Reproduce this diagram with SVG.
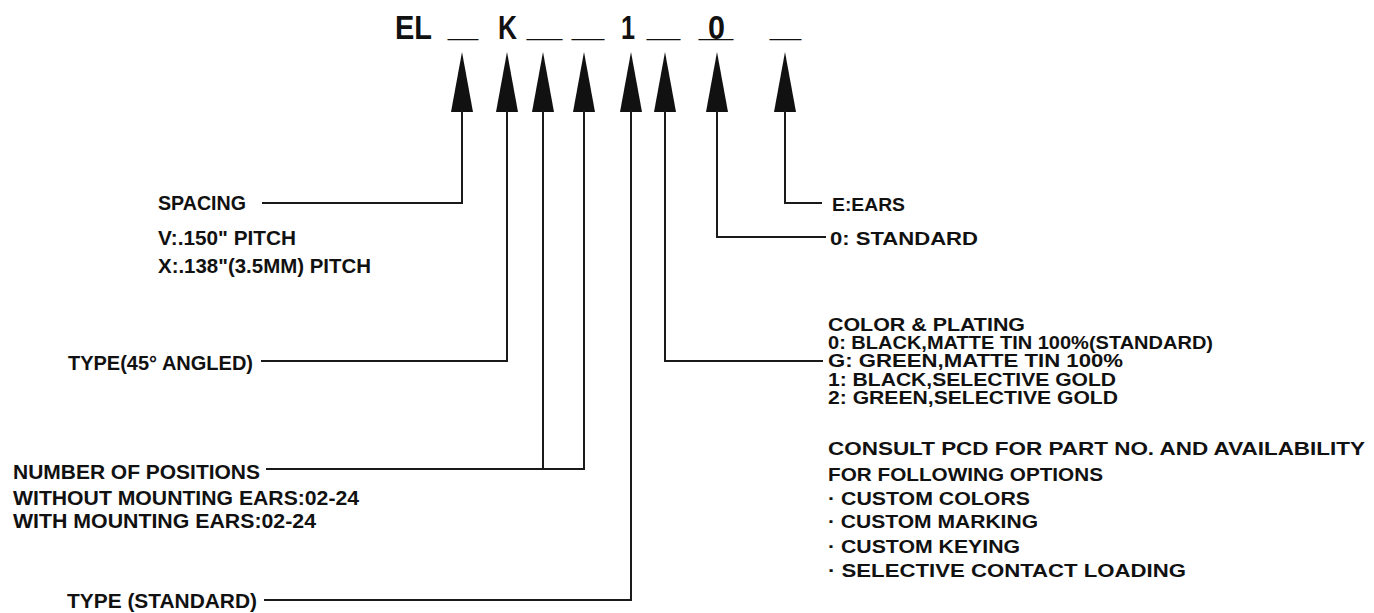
<svg xmlns="http://www.w3.org/2000/svg" xmlns:xlink="http://www.w3.org/1999/xlink" width="1374" height="613" viewBox="0 0 1374 613">
<style>
  .t { font-family: "Liberation Sans", Arial, sans-serif; font-weight: bold; fill: #111; }
  .l { font-size: 20px; }
  .r { font-size: 19px; }
  .h { font-size: 33px; }
  .c { fill: none; stroke: #1a1a1a; stroke-width: 2; }
  .ah { fill: #111; stroke: none; }
</style>
<defs>
  <path id="ah" d="M0,0 L-11,60 L11,60 Z"/>
</defs>
<rect width="1374" height="613" fill="#ffffff"/>

<g id="header">
  <text class="t h" x="395" y="39" textLength="37" lengthAdjust="spacingAndGlyphs">EL</text>
  <text class="t h" x="448" y="36" textLength="30" lengthAdjust="spacingAndGlyphs">_</text>
  <text class="t h" x="498" y="39" textLength="19" lengthAdjust="spacingAndGlyphs">K</text>
  <text class="t h" x="527" y="36" textLength="35" lengthAdjust="spacingAndGlyphs">_</text>
  <text class="t h" x="572" y="36" textLength="32" lengthAdjust="spacingAndGlyphs">_</text>
  <text class="t h" x="621" y="39" textLength="14" lengthAdjust="spacingAndGlyphs">1</text>
  <text class="t h" x="647" y="36" textLength="33" lengthAdjust="spacingAndGlyphs">_</text>
  <text class="t h" x="708" y="39" textLength="17" lengthAdjust="spacingAndGlyphs">0</text>
  <text class="t h" x="699" y="36" textLength="34" lengthAdjust="spacingAndGlyphs">_</text>
  <text class="t h" x="770" y="36" textLength="31" lengthAdjust="spacingAndGlyphs">_</text>
</g>

<g id="arrowheads">
  <use href="#ah" class="ah" x="462" y="52"/>
  <use href="#ah" class="ah" x="507" y="52"/>
  <use href="#ah" class="ah" x="543" y="52"/>
  <use href="#ah" class="ah" x="584" y="52"/>
  <use href="#ah" class="ah" x="631" y="52"/>
  <use href="#ah" class="ah" x="665" y="52"/>
  <use href="#ah" class="ah" x="717" y="52"/>
  <use href="#ah" class="ah" x="785" y="52"/>
</g>

<g id="connectors">
  <polyline class="c" points="262,203 462,203 462,110"/>
  <polyline class="c" points="261,361 507,361 507,110"/>
  <polyline class="c" points="266,469 584,469 584,110"/>
  <line class="c" x1="543" y1="110" x2="543" y2="469"/>
  <polyline class="c" points="264,600 631,600 631,110"/>
  <polyline class="c" points="823,361 665,361 665,110"/>
  <polyline class="c" points="826,237 717,237 717,110"/>
  <polyline class="c" points="822,203 785,203 785,110"/>
</g>

<g id="spacing">
  <text class="t l" x="158" y="210" textLength="88" lengthAdjust="spacingAndGlyphs">SPACING</text>
  <text class="t l" x="158" y="245" textLength="138" lengthAdjust="spacingAndGlyphs">V:.150"  PITCH</text>
  <text class="t l" x="158" y="272.5" textLength="213" lengthAdjust="spacingAndGlyphs">X:.138"(3.5MM)  PITCH</text>
</g>

<g id="type-angled">
  <text class="t l" x="253" y="370" text-anchor="end">TYPE(45° ANGLED)</text>
</g>

<g id="positions">
  <text class="t l" x="13" y="479" textLength="247" lengthAdjust="spacingAndGlyphs">NUMBER  OF  POSITIONS</text>
  <text class="t l" x="13" y="505" textLength="346" lengthAdjust="spacingAndGlyphs">WITHOUT  MOUNTING  EARS:02-24</text>
  <text class="t l" x="13" y="528" textLength="303" lengthAdjust="spacingAndGlyphs">WITH  MOUNTING  EARS:02-24</text>
</g>

<g id="type-standard">
  <text class="t l" x="67" y="608" textLength="190" lengthAdjust="spacingAndGlyphs">TYPE  (STANDARD)</text>
</g>

<g id="ears">
  <text class="t r" x="832" y="210.5" textLength="73" lengthAdjust="spacingAndGlyphs">E:EARS</text>
</g>

<g id="standard">
  <text class="t r" x="830" y="245" textLength="148" lengthAdjust="spacingAndGlyphs">0:  STANDARD</text>
</g>

<g id="color-plating">
  <text class="t r" x="828" y="331" textLength="197" lengthAdjust="spacingAndGlyphs">COLOR  &amp;  PLATING</text>
  <text class="t r" x="828" y="349" textLength="385" lengthAdjust="spacingAndGlyphs">0:  BLACK,MATTE  TIN  100%(STANDARD)</text>
  <text class="t r" x="828" y="367.3" textLength="295" lengthAdjust="spacingAndGlyphs">G:  GREEN,MATTE  TIN  100%</text>
  <text class="t r" x="828" y="385.7" textLength="288" lengthAdjust="spacingAndGlyphs">1:  BLACK,SELECTIVE  GOLD</text>
  <text class="t r" x="828" y="404" textLength="290" lengthAdjust="spacingAndGlyphs">2:  GREEN,SELECTIVE  GOLD</text>
  <text class="t r" x="828" y="455" textLength="537" lengthAdjust="spacingAndGlyphs">CONSULT  PCD  FOR  PART  NO.  AND  AVAILABILITY</text>
  <text class="t r" x="828" y="480.7" textLength="275" lengthAdjust="spacingAndGlyphs">FOR  FOLLOWING  OPTIONS</text>
  <text class="t r" x="828" y="505" textLength="202" lengthAdjust="spacingAndGlyphs">·  CUSTOM  COLORS</text>
  <text class="t r" x="828" y="528.3" textLength="210" lengthAdjust="spacingAndGlyphs">·  CUSTOM  MARKING</text>
  <text class="t r" x="828" y="552.7" textLength="192" lengthAdjust="spacingAndGlyphs">·  CUSTOM  KEYING</text>
  <text class="t r" x="828" y="576.7" textLength="358" lengthAdjust="spacingAndGlyphs">·  SELECTIVE  CONTACT  LOADING</text>
</g>
</svg>
